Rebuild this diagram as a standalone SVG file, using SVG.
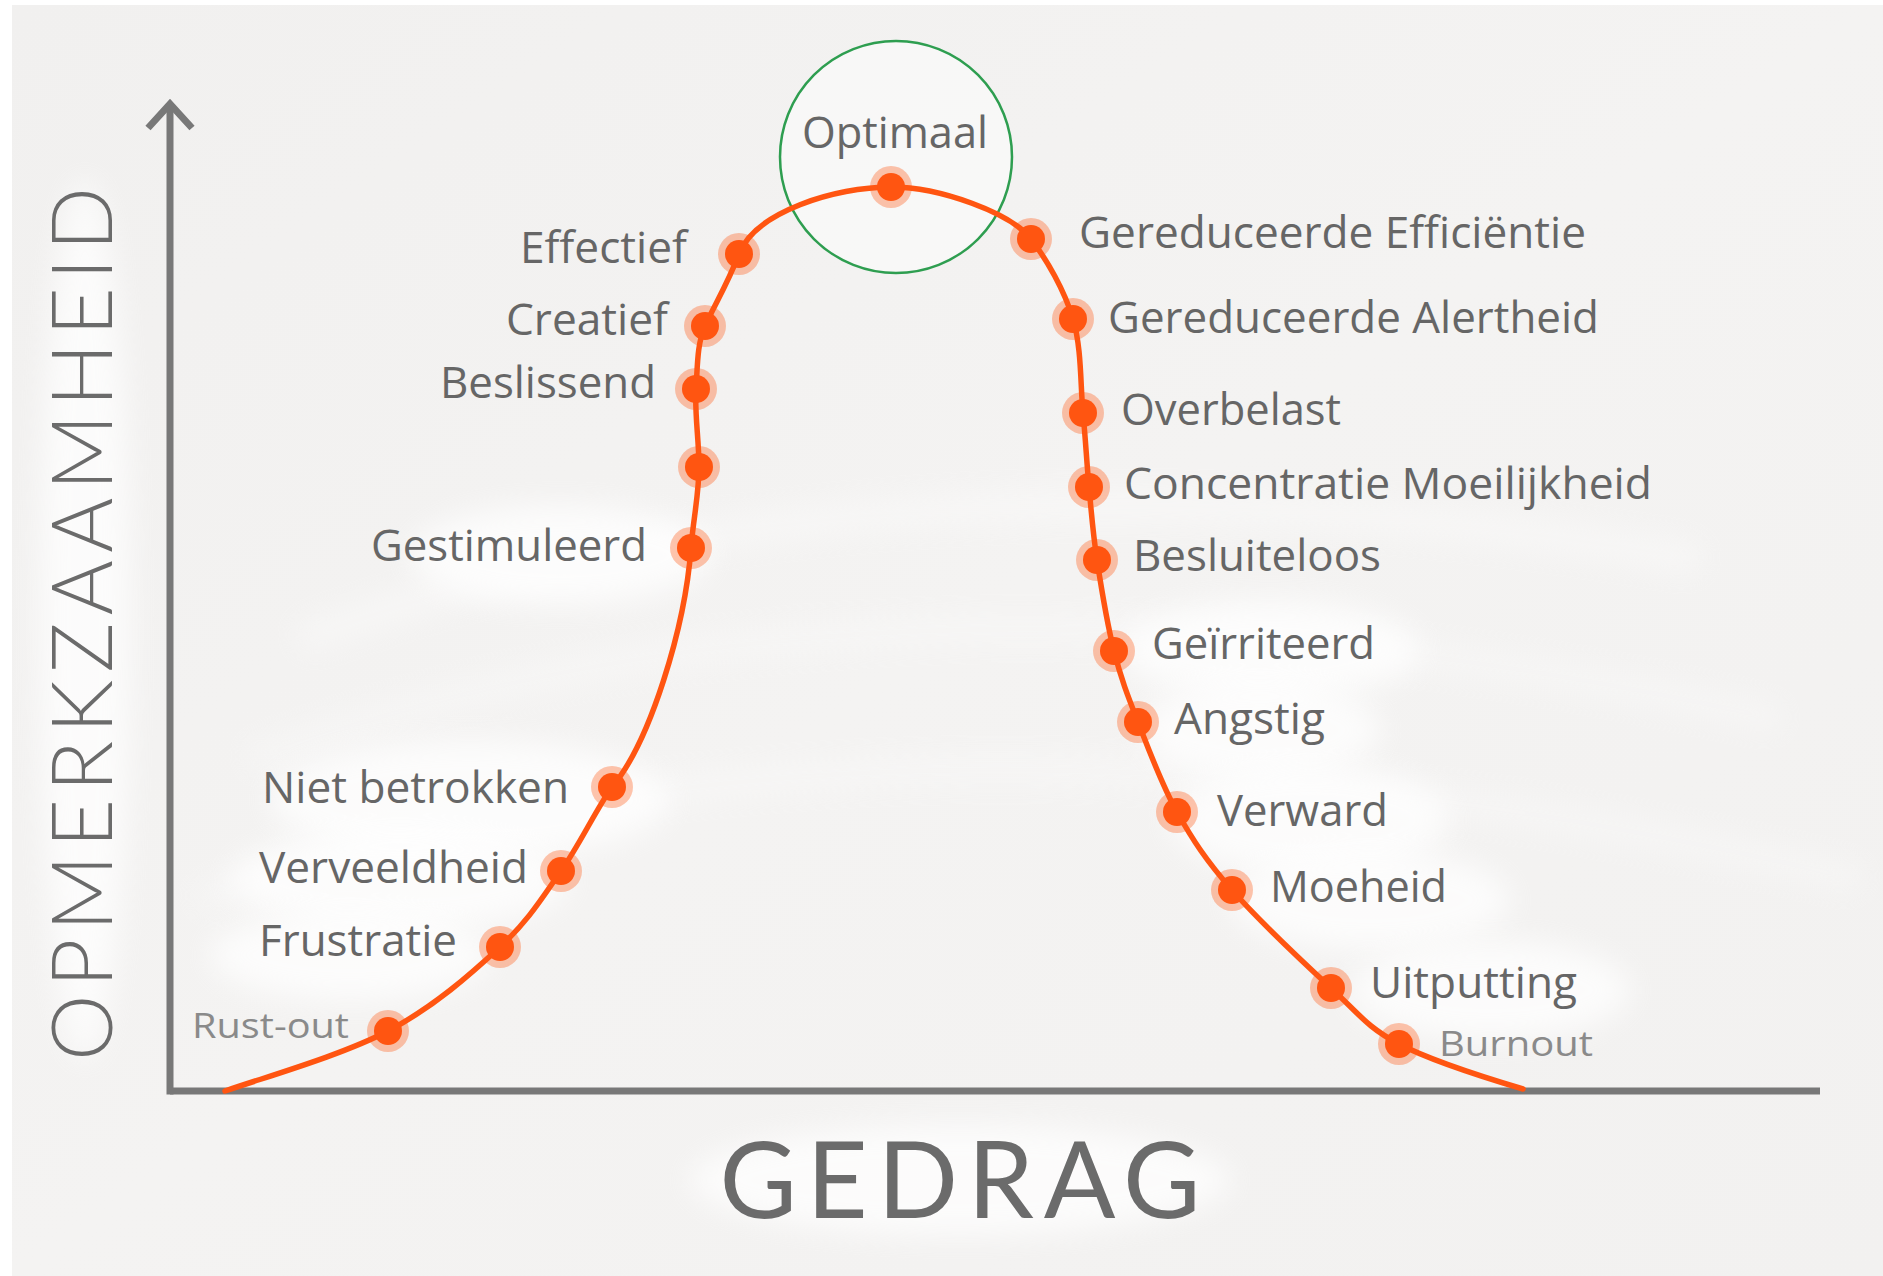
<svg xmlns="http://www.w3.org/2000/svg" width="1883" height="1276" viewBox="0 0 1883 1276">
  <defs>
    <linearGradient id="bg" x1="0" y1="0" x2="1" y2="1">
      <stop offset="0" stop-color="#f1f0ef"/>
      <stop offset="0.5" stop-color="#f4f3f2"/>
      <stop offset="1" stop-color="#f2f1f0"/>
    </linearGradient>
    <filter id="soft" x="-50%" y="-50%" width="200%" height="200%">
      <feGaussianBlur stdDeviation="14"/>
    </filter>
    <style>
      .lbl { font-family: "Open Sans", "Liberation Sans", sans-serif; font-size: 43px; font-weight: 500; fill: #666666; }
      .lbl-s { font-family: "Open Sans", "Liberation Sans", sans-serif; font-size: 35px; font-weight: 500; fill: #8a8a8a; }
      .axis-title { font-family: Lato, "Open Sans", sans-serif; fill: #6b6b6b; }
      .halo { fill: #ff5a14; fill-opacity: 0.35; }
      .core { fill: #ff5511; }
      .axis { stroke: #787878; stroke-width: 7; fill: none; stroke-linecap: butt; }
      .blob { fill: #ffffff; opacity: 0.75; filter: url(#soft); }
    </style>
  </defs>

  <g id="background">
    <rect x="0" y="0" width="1883" height="1276" fill="#ffffff"/>
    <rect x="12" y="5" width="1871" height="1271" fill="url(#bg)"/>
    <path d="M 300 640 Q 900 420 1700 560" stroke="#ffffff" stroke-width="30" fill="none" opacity="0.35" filter="url(#soft)"/>
    <path d="M 250 760 Q 900 520 1780 720" stroke="#ffffff" stroke-width="26" fill="none" opacity="0.3" filter="url(#soft)"/>
    <path d="M 200 900 Q 900 650 1860 880" stroke="#ffffff" stroke-width="26" fill="none" opacity="0.3" filter="url(#soft)"/>
    <ellipse class="blob" cx="470" cy="800" rx="200" ry="60"/>
    <ellipse class="blob" cx="400" cy="880" rx="170" ry="50"/>
    <ellipse class="blob" cx="350" cy="955" rx="140" ry="45"/>
    <ellipse class="blob" cx="560" cy="555" rx="150" ry="50"/>
    <ellipse class="blob" cx="1270" cy="650" rx="150" ry="50"/>
    <ellipse class="blob" cx="1260" cy="730" rx="120" ry="50"/>
    <ellipse class="blob" cx="1310" cy="820" rx="140" ry="55"/>
    <ellipse class="blob" cx="1370" cy="900" rx="140" ry="50"/>
    <ellipse class="blob" cx="1490" cy="990" rx="140" ry="50"/>
    <ellipse class="blob" cx="960" cy="1180" rx="270" ry="55"/>
    <ellipse class="blob" cx="85" cy="620" rx="45" ry="440"/>
  </g>

  <g id="axes">
    <line class="axis" x1="170" y1="1091" x2="1820" y2="1091"/>
    <line class="axis" x1="170" y1="1094.5" x2="170" y2="104"/>
    <polyline class="axis" points="148,128 170,104 192,128" stroke-linejoin="miter" stroke-linecap="round"/>
    <text class="axis-title" font-size="84" font-weight="300" text-anchor="middle" textLength="874" lengthAdjust="spacing" transform="translate(112 624) rotate(-90)" x="0" y="0">OPMERKZAAMHEID</text>
    <text class="axis-title" font-size="106" text-anchor="middle" textLength="481" lengthAdjust="spacing" x="960" y="1218">GEDRAG</text>
  </g>

  <g id="optimum-circle">
    <circle cx="896" cy="157" r="116" fill="#ffffff" fill-opacity="0.45" stroke="#2e9e50" stroke-width="2.5"/>
  </g>

  <g id="connectors">
    <path fill="none" stroke="#ff5511" stroke-width="5.5" stroke-linecap="round"
      d="M 225 1091
         C 268 1076.2 342.2 1055 388 1031
         C 433.8 1007 471.2 973.7 500 947
         C 528.8 920.3 542.3 897.5 561 871
         C 579.7 844.5 595.2 811 612 787
         C 650 742 685 628 691 548
         C 693 521 699 494 699 467
         C 699 440 694.4 413 696 389
         C 697.6 365 697 344 705 326
         C 714 306 727.8 283.4 739 254
         C 755 212 835 187 891 187
         C 940 187 1011 213 1031 239
         C 1047 260 1064.3 290 1073 319
         C 1081.7 348 1080.3 385 1083 413
         C 1085.7 441 1086.7 462.5 1089 487
         C 1091.3 511.5 1092.8 532.7 1097 560
         C 1101.2 587.3 1107.2 624 1114 651
         C 1120.8 678 1127.5 695.2 1138 722
         C 1148.5 748.8 1161.3 784 1177 812
         C 1192.7 840 1206.3 860.7 1232 890
         C 1257.7 919.3 1303.2 962.3 1331 988
         C 1358.8 1013.7 1367 1027.2 1399 1044
         C 1431 1060.8 1486.2 1078 1523 1089"/>
  </g>

  <g id="node-rust-out"><circle class="halo" cx="388" cy="1031" r="21"/><circle class="core" cx="388" cy="1031" r="14"/><text class="lbl-s" x="192" y="1038" textLength="157" lengthAdjust="spacingAndGlyphs">Rust-out</text></g>
  <g id="node-frustratie"><circle class="halo" cx="500" cy="947" r="21"/><circle class="core" cx="500" cy="947" r="14"/><text class="lbl" x="457" y="956" text-anchor="end" textLength="198" lengthAdjust="spacingAndGlyphs">Frustratie</text></g>
  <g id="node-verveeldheid"><circle class="halo" cx="561" cy="871" r="21"/><circle class="core" cx="561" cy="871" r="14"/><text class="lbl" x="528" y="883" text-anchor="end" textLength="269" lengthAdjust="spacingAndGlyphs">Verveeldheid</text></g>
  <g id="node-niet-betrokken"><circle class="halo" cx="612" cy="787" r="21"/><circle class="core" cx="612" cy="787" r="14"/><text class="lbl" x="569" y="803" text-anchor="end" textLength="307" lengthAdjust="spacingAndGlyphs">Niet betrokken</text></g>
  <g id="node-gestimuleerd"><circle class="halo" cx="691" cy="548" r="21"/><circle class="core" cx="691" cy="548" r="14"/><text class="lbl" x="647" y="561" text-anchor="end" textLength="276" lengthAdjust="spacingAndGlyphs">Gestimuleerd</text></g>
  <g id="node-unlabeled"><circle class="halo" cx="699" cy="467" r="21"/><circle class="core" cx="699" cy="467" r="14"/></g>
  <g id="node-beslissend"><circle class="halo" cx="696" cy="389" r="21"/><circle class="core" cx="696" cy="389" r="14"/><text class="lbl" x="656" y="398" text-anchor="end" textLength="216" lengthAdjust="spacingAndGlyphs">Beslissend</text></g>
  <g id="node-creatief"><circle class="halo" cx="705" cy="326" r="21"/><circle class="core" cx="705" cy="326" r="14"/><text class="lbl" x="668" y="335" text-anchor="end" textLength="162" lengthAdjust="spacingAndGlyphs">Creatief</text></g>
  <g id="node-effectief"><circle class="halo" cx="739" cy="254" r="21"/><circle class="core" cx="739" cy="254" r="14"/><text class="lbl" x="687" y="263" text-anchor="end" textLength="167" lengthAdjust="spacingAndGlyphs">Effectief</text></g>
  <g id="node-optimaal"><circle class="halo" cx="891" cy="187" r="21"/><circle class="core" cx="891" cy="187" r="14"/><text class="lbl" x="802" y="148" textLength="186" lengthAdjust="spacingAndGlyphs">Optimaal</text></g>
  <g id="node-gereduceerde-efficientie"><circle class="halo" cx="1031" cy="239" r="21"/><circle class="core" cx="1031" cy="239" r="14"/><text class="lbl" x="1079" y="248" textLength="507" lengthAdjust="spacingAndGlyphs">Gereduceerde Efficiëntie</text></g>
  <g id="node-gereduceerde-alertheid"><circle class="halo" cx="1073" cy="319" r="21"/><circle class="core" cx="1073" cy="319" r="14"/><text class="lbl" x="1108" y="333" textLength="491" lengthAdjust="spacingAndGlyphs">Gereduceerde Alertheid</text></g>
  <g id="node-overbelast"><circle class="halo" cx="1083" cy="413" r="21"/><circle class="core" cx="1083" cy="413" r="14"/><text class="lbl" x="1121" y="425" textLength="220" lengthAdjust="spacingAndGlyphs">Overbelast</text></g>
  <g id="node-concentratie"><circle class="halo" cx="1089" cy="487" r="21"/><circle class="core" cx="1089" cy="487" r="14"/><text class="lbl" x="1124" y="499" textLength="528" lengthAdjust="spacingAndGlyphs">Concentratie Moeilijkheid</text></g>
  <g id="node-besluiteloos"><circle class="halo" cx="1097" cy="560" r="21"/><circle class="core" cx="1097" cy="560" r="14"/><text class="lbl" x="1133" y="571" textLength="248" lengthAdjust="spacingAndGlyphs">Besluiteloos</text></g>
  <g id="node-geirriteerd"><circle class="halo" cx="1114" cy="651" r="21"/><circle class="core" cx="1114" cy="651" r="14"/><text class="lbl" x="1152" y="659" textLength="223" lengthAdjust="spacingAndGlyphs">Geïrriteerd</text></g>
  <g id="node-angstig"><circle class="halo" cx="1138" cy="722" r="21"/><circle class="core" cx="1138" cy="722" r="14"/><text class="lbl" x="1174" y="734" textLength="151" lengthAdjust="spacingAndGlyphs">Angstig</text></g>
  <g id="node-verward"><circle class="halo" cx="1177" cy="812" r="21"/><circle class="core" cx="1177" cy="812" r="14"/><text class="lbl" x="1217" y="826" textLength="171" lengthAdjust="spacingAndGlyphs">Verward</text></g>
  <g id="node-moeheid"><circle class="halo" cx="1232" cy="890" r="21"/><circle class="core" cx="1232" cy="890" r="14"/><text class="lbl" x="1270" y="902" textLength="177" lengthAdjust="spacingAndGlyphs">Moeheid</text></g>
  <g id="node-uitputting"><circle class="halo" cx="1331" cy="988" r="21"/><circle class="core" cx="1331" cy="988" r="14"/><text class="lbl" x="1370" y="998" textLength="207" lengthAdjust="spacingAndGlyphs">Uitputting</text></g>
  <g id="node-burnout"><circle class="halo" cx="1399" cy="1044" r="21"/><circle class="core" cx="1399" cy="1044" r="14"/><text class="lbl-s" x="1439" y="1056" textLength="154" lengthAdjust="spacingAndGlyphs">Burnout</text></g>
</svg>
